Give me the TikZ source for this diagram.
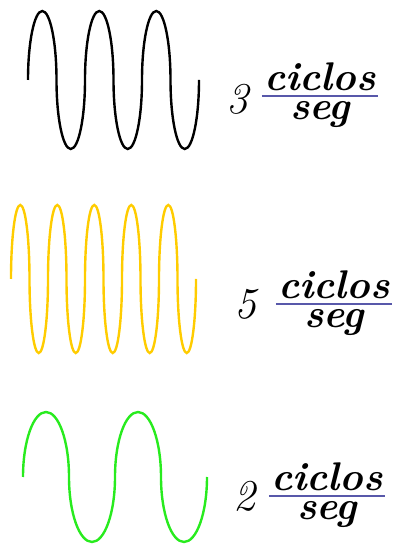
\documentclass[tikz,border=0pt]{standalone}
\usetikzlibrary{positioning}
\definecolor{barblue}{RGB}{88,88,170}
\definecolor{waveyellow}{RGB}{255,204,0}
\definecolor{wavegreen}{RGB}{40,235,30}

\begin{document}
\begin{tikzpicture}[x=1pt, y=1pt,
  wave/.style={line width=2.4pt},
  lbl/.style={inner sep=0pt, font=\fontsize{40}{40}\selectfont\bfseries\itshape},
  digit/.style={inner sep=0pt, font=\fontsize{44}{44}\selectfont\itshape},
  num/.style={lbl, inner xsep=2pt, inner ysep=5pt, anchor=south},
  den/.style={lbl, inner ysep=3pt},
  bar/.style={draw=barblue, line width=1.5pt}
]
\useasboundingbox (0,0) rectangle (401,544);
% 3 ciclos por segundo
\draw[wave, black] (28,464) \foreach \i in {1,...,3}{
  arc[start angle=180, end angle=0, x radius=14.25pt, y radius=69pt]
  arc[start angle=180, end angle=360, x radius=14.25pt, y radius=69pt]};
\node[digit] (n3) at (237,445) {3};
\node[num] (c3) at (320,448) {ciclos};
\node[den, below=2pt of c3] (s3) {seg};
\draw[bar] (c3.south west) -- (c3.south east);
% 5 ciclos por segundo
\draw[wave, waveyellow] (11,265) \foreach \i in {1,...,5}{
  arc[start angle=180, end angle=0, x radius=9.25pt, y radius=74pt]
  arc[start angle=180, end angle=360, x radius=9.25pt, y radius=74pt]};
\node[digit] (n5) at (245,240) {5};
\node[num] (c5) at (334,240) {ciclos};
\node[den, below=2pt of c5] (s5) {seg};
\draw[bar] (c5.south west) -- (c5.south east);
% 2 ciclos por segundo
\draw[wave, wavegreen] (23,67) \foreach \i in {1,2}{
  arc[start angle=180, end angle=0, x radius=23pt, y radius=65pt]
  arc[start angle=180, end angle=360, x radius=23pt, y radius=65pt]};
\node[digit] (n2) at (244,48) {2};
\node[num] (c2) at (327,48) {ciclos};
\node[den, below=2pt of c2] (s2) {seg};
\draw[bar] (c2.south west) -- (c2.south east);
\end{tikzpicture}
\end{document}
